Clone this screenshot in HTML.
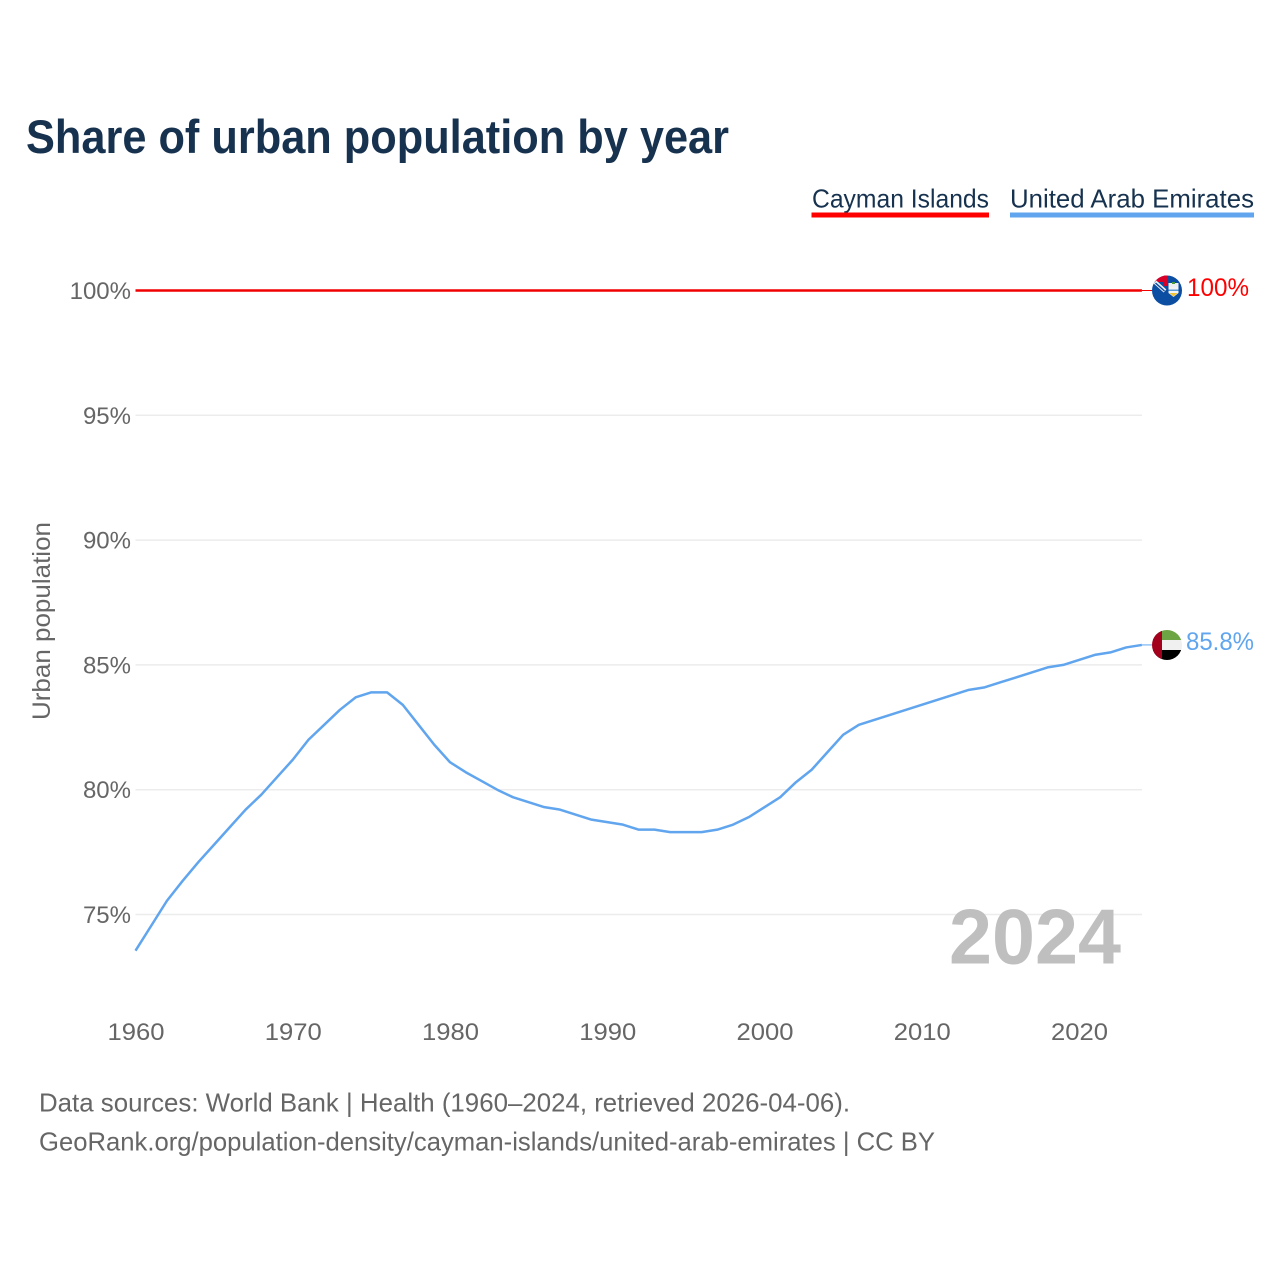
<!DOCTYPE html>
<html lang="en">
<head>
<meta charset="utf-8">
<title>Share of urban population by year</title>
<style>
html,body{margin:0;padding:0;background:#fff;}
svg{display:block;font-family:"Liberation Sans",sans-serif;}
</style>
</head>
<body>
<svg id="chart" width="1280" height="1280" viewBox="0 0 1280 1280" xmlns="http://www.w3.org/2000/svg">
  <defs>
    <clipPath id="flag-clip-a"><circle cx="1167" cy="290.5" r="15"/></clipPath>
    <clipPath id="flag-clip-b"><circle cx="1167" cy="645" r="15"/></clipPath>
  </defs>
  <rect width="1280" height="1280" fill="#fff"/>
  <text x="26" y="153" font-size="47" font-weight="700" fill="#17324f" textLength="703" lengthAdjust="spacingAndGlyphs">Share of urban population by year</text>

  <g>
    <g>
      <text x="812" y="207.5" font-size="26" fill="#17324f" textLength="177" lengthAdjust="spacingAndGlyphs">Cayman Islands</text>
      <rect x="811.5" y="212.5" width="177.5" height="5" fill="#ff0000"/>
    </g>
    <g>
      <text x="1010" y="207.5" font-size="26" fill="#17324f" textLength="244" lengthAdjust="spacingAndGlyphs">United Arab Emirates</text>
      <rect x="1010" y="212.5" width="244" height="5" fill="#60a5ee"/>
    </g>
  </g>

  <g id="grid"></g>
  <g id="yticks"></g>
  <g id="xticks"></g>
  <text transform="translate(50,720) rotate(-90)" font-size="25" fill="#666" textLength="198" lengthAdjust="spacingAndGlyphs">Urban population</text>

  <text x="949" y="963.5" font-size="78" font-weight="700" fill="#bfbfbf" textLength="172" lengthAdjust="spacingAndGlyphs">2024</text>

  <g id="series"></g>

  <g clip-path="url(#flag-clip-a)">
    <rect x="1152" y="275" width="30" height="31" fill="#0b4ea2"/>
    <rect x="1152" y="275" width="15" height="7" fill="#d80027"/>
    <rect x="1163" y="275" width="4" height="11" fill="#d80027"/>
    <path d="M1155 282l10 9" stroke="#f0f0f0" stroke-width="4" fill="none"/>
    <path d="M1155.5 283l9 8" stroke="#0b4ea2" stroke-width="1.5" fill="none"/>
    <rect x="1168.5" y="283" width="10" height="4" fill="#f0f0f0"/>
    <rect x="1172" y="282" width="3" height="2" fill="#4a9a3a"/>
    <path d="M1168.5 287h10v6l-5 4-5-4z" fill="#f4f4f4"/>
    <rect x="1168.5" y="289.5" width="10" height="1.5" fill="#5b9bd5"/>
    <path d="M1169.5 293h8l-4 3.500z" fill="#f2c230"/>
  </g>
  <g clip-path="url(#flag-clip-b)">
    <rect x="1152" y="630" width="30" height="10" fill="#6da544"/>
    <rect x="1152" y="640" width="30" height="10" fill="#f0f0f0"/>
    <rect x="1152" y="650" width="30" height="10" fill="#000"/>
    <rect x="1152" y="630" width="10" height="30" fill="#a2001d"/>
  </g>

  <text x="1187" y="296" font-size="25" fill="#ff0000" textLength="62" lengthAdjust="spacingAndGlyphs">100%</text>
  <text x="1186" y="650" font-size="25" fill="#60a5ee" textLength="68" lengthAdjust="spacingAndGlyphs">85.8%</text>

  <text x="39" y="1111.5" font-size="26" fill="#666" textLength="811" lengthAdjust="spacingAndGlyphs">Data sources: World Bank | Health (1960–2024, retrieved 2026-04-06).</text>
  <text x="39" y="1150.500" font-size="26" fill="#666" textLength="896" lengthAdjust="spacingAndGlyphs">GeoRank.org/population-density/cayman-islands/united-arab-emirates | CC BY</text>

<script>
var startYear = 1960;
var yTickValues = [100, 95, 90, 85, 80, 75];
var xTickValues = [1960, 1970, 1980, 1990, 2000, 2010, 2020];
var caymanValues = [100,100,100,100,100,100,100,100,100,100,100,100,100,100,100,100,100,100,100,100,100,100,100,100,100,100,100,100,100,100,100,100,100,100,100,100,100,100,100,100,100,100,100,100,100,100,100,100,100,100,100,100,100,100,100,100,100,100,100,100,100,100,100,100,100];
var uaeValues = [73.55,74.55,75.55,76.35,77.1,77.8,78.5,79.2,79.8,80.5,81.2,82.0,82.6,83.2,83.7,83.9,83.9,83.4,82.6,81.8,81.1,80.7,80.35,80.0,79.7,79.5,79.3,79.2,79.0,78.8,78.7,78.6,78.4,78.4,78.3,78.3,78.3,78.4,78.6,78.9,79.3,79.7,80.3,80.8,81.5,82.2,82.6,82.8,83.0,83.2,83.4,83.6,83.8,84.0,84.1,84.3,84.5,84.7,84.9,85.0,85.2,85.4,85.5,85.7,85.8];

var NS = 'http://www.w3.org/2000/svg';
function xScale(year){ return 135.5 + (year - 1960) * 15.725; }
function yScale(v){ return 290.5 + (100 - v) * 24.96; }
function make(tag, attrs, parent){
  var el = document.createElementNS(NS, tag);
  for (var k in attrs) el.setAttribute(k, attrs[k]);
  parent.appendChild(el);
  return el;
}

var grid = document.getElementById('grid');
var yticks = document.getElementById('yticks');
var xticks = document.getElementById('xticks');
var series = document.getElementById('series');

yTickValues.forEach(function(v){
  var line = make('line', {x1:135.5, x2:1142, y1:yScale(v), y2:yScale(v), stroke:'#ececec', 'stroke-width':1.5}, grid);
  
  
  var t = make('text', {x:131, y:yScale(v) + 8.5, 'text-anchor':'end', 'font-size':24, fill:'#666'}, yticks);
  t.textContent = v + '%';
  
  
});

xTickValues.forEach(function(y){
  var t = make('text', {x:xScale(y) + 0.5, y:1040, 'text-anchor':'middle', 'font-size':24.5, fill:'#666', textLength:57, lengthAdjust:'spacingAndGlyphs'}, xticks);
  t.textContent = String(y);
  
  
});

function drawSeries(values, color, width, name){
  var pts = values.map(function(v, i){ return xScale(startYear + i).toFixed(2) + ',' + yScale(v).toFixed(2); });
  var line = make('polyline', {points:pts.join(' '), fill:'none', stroke:color, 'stroke-width':width, 'stroke-linejoin':'round'}, series);
  
  
  var lastYear = startYear + values.length - 1;
  var lastV = values[values.length - 1];
  var lead = make('line', {x1:xScale(lastYear), x2:1153, y1:yScale(lastV), y2:yScale(lastV), stroke:color, 'stroke-width':1}, series);
  
  
}
drawSeries(uaeValues, '#60a5ee', 2.5, 'line-united-arab-emirates');
drawSeries(caymanValues, '#f00000', 2.5, 'line-cayman-islands');
</script>
</svg>
</body>
</html>
